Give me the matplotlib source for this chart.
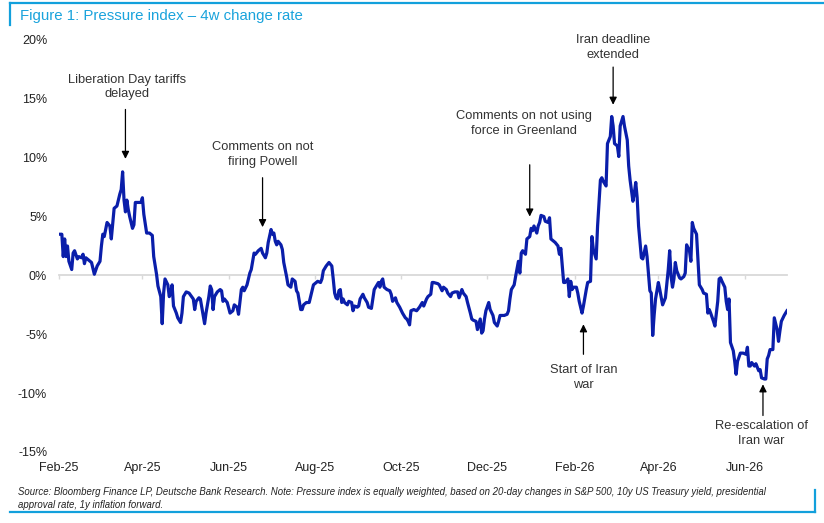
import pandas as pd
import matplotlib
matplotlib.use('Agg')
import matplotlib.pyplot as plt
import matplotlib.dates as mdates
from matplotlib.lines import Line2D
from matplotlib.ticker import FuncFormatter

plt.rcParams['font.family'] = ['Liberation Sans', 'DejaVu Sans']

# data: days since 2025-02-01 and the index 4w change (%)
start_date = '2025-02-01'
day_offset = [
    0, 2, 3, 4, 5, 6, 7, 9, 10, 11, 13, 14, 16, 17, 18, 19, 21, 23, 25, 27,
    29, 30, 31, 32, 34, 36, 37, 39, 41, 43, 44, 45, 46, 47, 48, 49, 50, 52, 53, 54,
    56, 58, 59, 60, 62, 64, 66, 67, 69, 70, 72, 73, 74, 75, 77, 78, 79, 80, 81, 83,
    84, 86, 87, 88, 90, 92,
    95, 96, 97, 99, 100, 102, 103, 104, 106, 107, 108, 109, 110, 112, 114, 115, 116, 117, 119, 121,
    123, 124, 126, 127, 129, 130, 131, 133, 135, 136, 138, 139, 141, 143, 144, 146, 147, 148, 150, 151,
    152, 153, 154, 155, 157, 158, 159, 161, 162, 164, 165, 167, 168, 169, 171, 172, 173, 175, 177, 179,
    180, 182, 183, 185, 186, 187, 189, 191, 193, 194, 195, 196, 197, 198,
    199, 200, 201, 202, 204, 205, 207, 208, 209, 211, 212, 213, 215, 216, 218, 219, 221, 222, 223, 225,
    226, 227, 228, 229, 230, 232, 234, 235, 236, 238, 239, 241, 243, 245, 246, 247, 248, 249, 251, 253,
    255, 256, 257, 258, 260, 261, 263, 264, 265, 268, 269, 271, 272, 274, 275, 277, 278, 280, 282, 283,
    285, 286, 288, 289, 291, 292, 293, 295, 296, 298, 299, 300, 301, 302, 304, 305, 307, 308, 310, 311,
    312, 315, 317, 318,
    319, 320, 322, 323, 325, 326, 327, 328, 330, 331, 333, 334, 335, 336, 338, 339, 340, 341, 343, 344,
    346, 347, 348, 350, 351, 353, 354, 355, 356, 357, 358, 360, 361, 362, 363, 364, 366, 367, 368, 370,
    371, 373, 374, 376, 377, 378, 380, 381, 383, 384, 385, 387, 388, 390, 391, 392, 393, 395, 396, 397,
    399, 400, 402, 403, 404, 406, 407, 408, 409, 410, 412, 413, 415, 416,
    418, 419, 420, 421, 422, 424, 425, 427, 428, 429, 431, 432, 433, 434, 435, 436, 437, 439, 440, 442,
    443, 444, 446, 447, 448, 449, 451, 452, 453, 455, 456, 458, 459, 460, 461, 463, 464, 466, 467, 468,
    469, 471, 472, 473, 474, 475, 477, 478, 479, 480, 482, 484, 486, 487, 488, 489, 490, 492, 493, 495,
    496, 497, 499, 500, 501, 502, 503, 505, 506, 508, 509, 510, 511, 513, 515,
]
pressure_chg = [
    3.5, 3.5, 1.6, 3.1, 1.6, 2.5, 1.2, 0.5, 1.9, 2.1, 1.4, 1.6, 1.5, 1.8, 1.0, 1.5, 1.3, 1.1, 0.1, 0.8,
    1.2, 2.5, 3.5, 3.3, 4.5, 4.2, 3.1, 5.7, 5.9, 6.9, 7.3, 8.8, 6.4, 5.4, 6.4, 5.6, 5.0, 4.0, 4.3, 6.2,
    6.2, 6.2, 6.6, 5.2, 3.6, 3.6, 3.4, 1.6, 0.1, -0.9, -1.8, -4.1, -1.5, -0.3, -0.8, -1.8, -1.5, -0.8, -2.6, -3.2,
    -3.6, -4.0, -3.2, -1.8, -1.4, -1.5,
    -2.0, -2.9, -2.2, -1.9, -2.0, -3.4, -4.1, -3.2, -1.8, -0.9, -1.2, -2.9, -1.8, -1.4, -1.2, -1.3, -2.2, -2.0, -2.3, -3.2,
    -3.0, -2.5, -2.7, -3.3, -1.2, -1.0, -1.3, -0.8, 0.2, 0.5, 1.9, 1.8, 2.1, 2.3, 1.9, 1.5, 1.9, 2.8, 3.9, 3.5,
    3.6, 2.9, 2.6, 2.9, 2.6, 2.2, 1.1, -0.1, -0.8, -1.0, -0.3, -0.5, -1.3, -1.5, -2.9, -2.9, -2.5, -2.3, -2.3, -1.3,
    -0.8, -0.6, -0.5, -0.6, -0.3, 0.4, 0.8, 1.1, 0.8, -0.3, -1.5, -1.9, -2.0, -1.3,
    -1.2, -2.3, -2.0, -2.3, -2.5, -2.2, -2.3, -3.0, -2.6, -2.7, -2.6, -2.0, -1.6, -1.9, -2.3, -2.7, -2.8, -2.0, -1.2, -0.8,
    -0.6, -1.0, -0.5, -0.3, -1.0, -1.2, -1.3, -1.6, -2.2, -1.9, -2.3, -2.7, -3.2, -3.6, -3.7, -3.9, -4.2, -3.0, -2.9, -3.0,
    -2.7, -2.5, -2.3, -2.6, -2.0, -1.8, -1.6, -0.6, -0.6, -0.7, -0.8, -1.3, -1.0, -1.2, -1.5, -1.8, -1.5, -1.4, -1.4, -1.9,
    -1.2, -1.5, -1.8, -2.3, -3.2, -3.7, -3.8, -3.9, -4.6, -3.7, -4.9, -4.7, -3.7, -3.0, -2.3, -2.9, -3.4, -4.0, -4.3, -3.9,
    -3.4, -3.4, -3.3, -3.0,
    -2.0, -1.2, -0.8, -0.1, 1.2, 0.2, 1.9, 2.1, 1.8, 3.1, 3.3, 4.0, 3.8, 4.2, 3.6, 4.2, 4.5, 5.1, 5.0, 4.6,
    4.5, 4.9, 3.1, 2.9, 2.8, 2.5, 1.8, 2.3, 0.8, -0.6, -0.6, -0.3, -1.8, -0.5, -1.2, -1.0, -1.0, -1.5, -2.2, -3.2,
    -2.6, -1.2, -0.6, -0.5, 3.3, 2.2, 1.4, 4.2, 8.1, 8.3, 8.0, 7.6, 11.2, 11.8, 13.5, 12.7, 11.2, 11.0, 10.1, 12.7,
    13.5, 12.7, 11.5, 9.3, 8.1, 6.3, 7.0, 7.9, 6.6, 4.2, 1.5, 1.4, 2.5, 1.6,
    -1.3, -1.5, -5.1, -3.4, -2.0, -0.6, -1.2, -2.5, -2.2, -1.9, 0.5, 2.1, -0.1, -1.0, -0.3, 1.1, 0.4, -0.2, -0.3, -0.1,
    0.2, 2.6, 2.1, 1.2, 4.5, 4.0, 3.5, 1.4, -0.8, -1.2, -1.5, -1.6, -3.2, -2.9, -3.2, -3.9, -4.3, -2.2, -0.3, -0.2,
    -0.5, -1.0, -2.2, -2.9, -2.0, -5.7, -6.4, -7.3, -8.4, -7.3, -6.6, -6.6, -6.7, -6.1, -7.7, -7.7, -7.4, -7.7, -7.5, -8.1,
    -8.0, -8.7, -8.8, -8.8, -7.1, -6.8, -6.3, -6.3, -3.6, -4.6, -5.6, -4.7, -3.9, -3.4, -3.0,
]

y_ticks = [-15, -10, -5, 0, 5, 10, 15, 20]

# annotations: text, text pos (date, %), arrow date, arrow tail (%), arrow tip (%)
events = [
    ("Liberation Day tariffs\ndelayed", '2025-03-21', 16.0, '2025-03-20', 14.1, 9.9),
    ("Comments on not\nfiring Powell", '2025-06-25', 10.3, '2025-06-25', 8.3, 4.1),
    ("Comments on not using\nforce in Greenland", '2025-12-27', 12.9, '2025-12-31', 9.4, 5.0),
    ("Iran deadline\nextended", '2026-02-28', 19.35, '2026-02-28', 17.7, 14.5),
    ("Start of Iran\nwar", '2026-02-07', -8.7, '2026-02-07', -6.7, -4.15),
    ("Re-escalation of\nIran war", '2026-06-13', -13.4, '2026-06-14', -11.9, -9.25),
]

dates = pd.Timestamp(start_date) + pd.to_timedelta(day_offset, unit='D')

W, H = 824, 523
fig = plt.figure(figsize=(W / 100, H / 100), dpi=100)
ax = fig.add_axes([59 / W, 1 - 452 / H, (787 - 59) / W, (452 - 40) / H])

ax.plot(dates, pressure_chg, color='#0a1eaa', lw=2.3, solid_joinstyle='round', zorder=3)

ax.set_xlim(dates[0], dates[-1])
ax.set_ylim(-15, 20)
ax.set_yticks(y_ticks)
ax.yaxis.set_major_formatter(FuncFormatter(lambda v, p: f'{v:.0f}%'))
ax.tick_params(axis='y', length=0, pad=8.5, labelsize=9, labelcolor='#222222')

for s in ['top', 'right', 'left']:
    ax.spines[s].set_visible(False)
# zero line acts as x axis with small ticks
ax.spines['bottom'].set_position(('data', 0))
ax.spines['bottom'].set_color('#d9d9d9')
ax.spines['bottom'].set_linewidth(1.3)
ax.xaxis.set_major_locator(mdates.MonthLocator(bymonth=[2, 4, 6, 8, 10, 12]))
ax.tick_params(axis='x', length=3, width=1, color='#d9d9d9', labelbottom=False)

sec = ax.secondary_xaxis(0)
sec.spines['bottom'].set_visible(False)
sec.xaxis.set_major_locator(mdates.MonthLocator(bymonth=[2, 4, 6, 8, 10, 12]))
sec.xaxis.set_major_formatter(mdates.DateFormatter('%b-%y'))
sec.tick_params(axis='x', length=0, pad=7, labelsize=9, labelcolor='#222222')

for label, tx, ty, ax_date, tail, tip in events:
    ax.annotate('', xy=(pd.Timestamp(ax_date), tip), xytext=(pd.Timestamp(ax_date), tail),
                arrowprops=dict(arrowstyle='-|>', color='black', lw=0.9, mutation_scale=11,
                                shrinkA=0, shrinkB=0))
    ax.text(pd.Timestamp(tx), ty, label, ha='center', va='center', fontsize=9.3,
            color='#333333', linespacing=1.3)

# title and frame
fig.text(20 / W, 1 - 16 / H, 'Figure 1: Pressure index \u2013 4w change rate', color='#1aa3dc',
         fontsize=10.8, ha='left', va='center')
blue = '#12a0dc'
fig.add_artist(Line2D([10 / W, 1], [1 - 3 / H, 1 - 3 / H], color=blue, lw=1.6))
fig.add_artist(Line2D([10 / W, 10 / W], [1 - 3 / H, 1 - 25 / H], color=blue, lw=1.6))
fig.add_artist(Line2D([10 / W, 815 / W], [1 - 512 / H, 1 - 512 / H], color=blue, lw=1.6))
fig.add_artist(Line2D([815 / W, 815 / W], [1 - 512 / H, 1 - 490 / H], color=blue, lw=1.6))

fig.text(18 / W, 1 - 492 / H,
         'Source: Bloomberg Finance LP, Deutsche Bank Research. Note: Pressure index is equally weighted, '
         'based on 20-day changes in S&P 500, 10y US Treasury yield, presidential',
         fontsize=6.95, style='italic', color='#222222', ha='left', va='center')
fig.text(18 / W, 1 - 505 / H, 'approval rate, 1y inflation forward.',
         fontsize=6.95, style='italic', color='#222222', ha='left', va='center')

plt.savefig('out.png', dpi=100)
